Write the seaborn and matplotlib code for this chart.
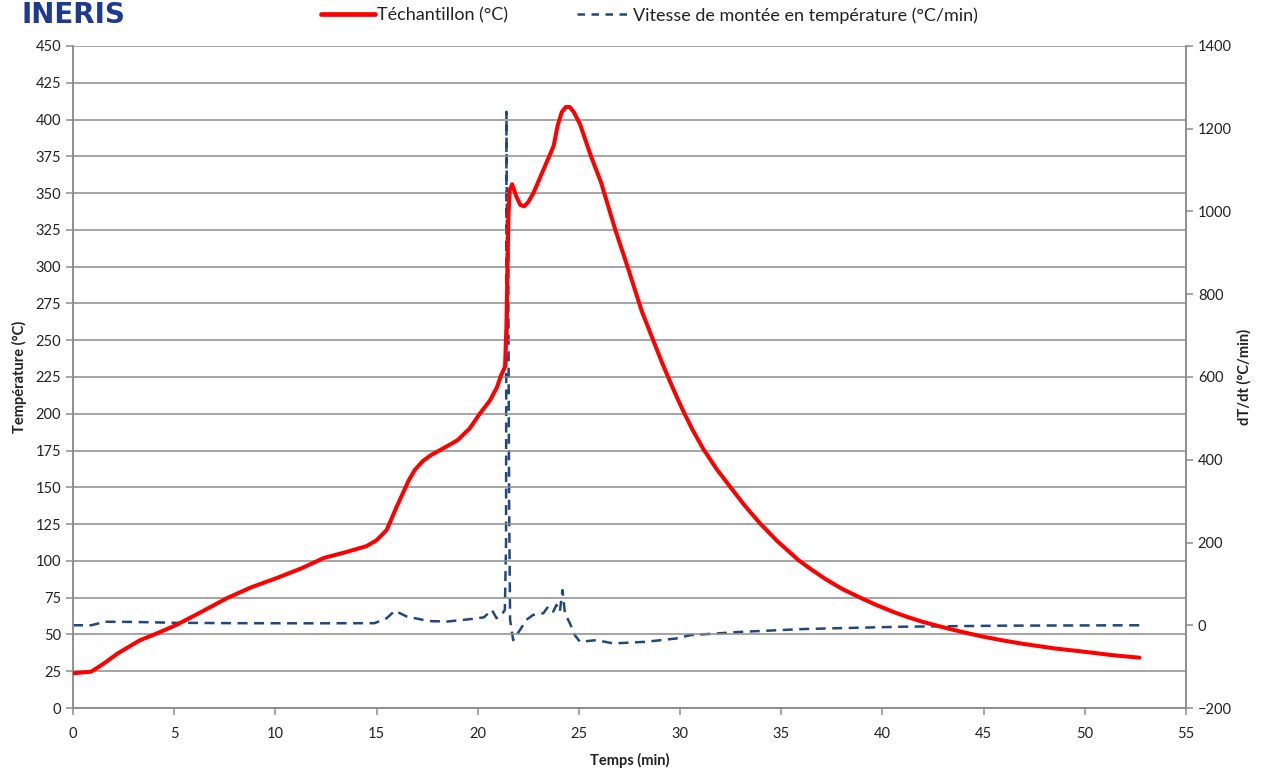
import matplotlib
matplotlib.use("Agg")
import matplotlib.pyplot as plt
import seaborn as sns
import pandas as pd
from matplotlib.lines import Line2D

# ---- data ----
time_T = [0, 0.9, 1.5, 2.2, 3.3, 4.2, 5.1, 6.3, 7.6, 8.8, 10.1, 11.3, 12.4, 13.5, 14.5,
          15.0, 15.5, 16.0, 16.3, 16.6, 16.9, 17.3, 17.7, 18.1, 19.0, 19.6, 20.1, 20.6,
          20.95, 21.15, 21.35, 21.42, 21.47, 21.52, 21.58, 21.7, 21.9, 22.1, 22.3, 22.5,
          22.75, 23.0, 23.25, 23.5, 23.75, 23.95, 24.15, 24.35, 24.55, 24.75, 25.05,
          25.6, 26.1, 26.8, 27.45, 28.1, 28.7, 29.1, 29.5, 29.85, 30.15, 30.6, 31.15, 31.8,
          32.55, 33.2, 33.95, 34.8, 35.85, 36.5, 37.2, 38.0, 38.9, 39.7, 40.5, 41.2, 42,
          43.3, 44, 45, 46, 47, 48.5, 50, 51.3, 52.7]
temp_T = [23.6, 24.7, 30, 37, 46, 51, 56.4, 65, 74.6, 82, 88.5, 95, 102, 106, 110,
          114, 121, 137, 146, 155, 162, 168, 172, 175, 182, 190, 200, 209,
          218, 226, 232, 260, 300, 335, 352, 356, 348, 342, 341, 344,
          350, 358, 366, 374, 382, 396, 405, 408.5, 408.5, 405, 397,
          375, 357, 325, 298, 270, 249, 235, 222, 211, 202, 189.5, 176, 162.5,
          149, 137.5, 125.5, 113.5, 100.5, 94, 87.5, 81, 75, 70, 65.5, 62, 58.5,
          53.8, 51.5, 48.4, 45.8, 43.5, 40.5, 38.2, 36, 34.2]

time_v = [0, 0.9, 1.6, 3, 5, 8, 11.5, 14.9, 15.5, 15.9, 16.5, 17.6, 18.5, 19.5, 20.3,
          20.7, 20.93, 21.18, 21.34, 21.40, 21.42, 21.46, 21.50, 21.55, 21.6, 21.75,
          22.08, 22.4, 22.74, 23.24, 23.48, 23.73, 23.89, 24.06, 24.19, 24.31, 24.55,
          24.8, 25.05, 25.87, 26.7, 28.3, 29.8, 30.5, 33, 36.2, 41, 46, 52.7]
rate_v = [0, 0, 8.5, 8, 6, 5, 4.7, 5, 17, 35, 21, 10, 9, 14, 19,
          37, 17, 25, 37, 200, 1241, 700, 1000, 300, 13, -36,
          -12, 13, 25, 29, 45, 33, 49, 33, 85, 29, 5,
          -24, -40, -36, -44, -40, -32, -24, -16, -9, -3.5, -1, 0]

temp_ticks = list(range(0, 451, 25))
rate_ticks = list(range(-200, 1401, 200))
time_ticks = list(range(0, 56, 5))

label_T = "Téchantillon (°C)"
label_v = "Vitesse de montée en température (°C/min)"

df_T = pd.DataFrame({"t": time_T, "T": temp_T})
df_v = pd.DataFrame({"t": time_v, "v": rate_v})

# ---- style ----
sns.set_theme(style="white")
plt.rcParams["font.family"] = ["Lato", "DejaVu Sans"]

RED = "#ff0000"
NAVY = "#1f497d"
GRID = "#8c8c8c"
TXT = "#222222"

fig = plt.figure(figsize=(12.63, 7.74), dpi=100)
ax = fig.add_axes([73/1263, 1-708/774, (1186-73)/1263, (708-46)/774])
ax2 = ax.twinx()

sns.lineplot(data=df_T, x="t", y="T", ax=ax, color=RED, linewidth=2.9,
             sort=False, estimator=None, zorder=5)
ax.lines[0].set_solid_joinstyle("round")
sns.lineplot(data=df_v, x="t", y="v", ax=ax2, color=NAVY, linewidth=1.8,
             sort=False, estimator=None, dashes=False)
ax2.lines[0].set_dashes((4, 2.6))

ax.set_zorder(ax2.get_zorder() + 1)
ax.patch.set_visible(False)

ax.set_xlim(0, 55)
ax.set_ylim(0, 450)
ax2.set_ylim(-200, 1400)
ax.set_xticks(time_ticks)
ax.set_yticks(temp_ticks)
ax2.set_yticks(rate_ticks)

ax.yaxis.grid(True, color=GRID, linewidth=1.1)
ax.xaxis.grid(False)
ax2.grid(False)

for a in (ax, ax2):
    for s in a.spines.values():
        s.set_color(GRID)
        s.set_linewidth(1.1)
    a.spines["top"].set_visible(False)
    a.tick_params(axis="both", colors=GRID, labelcolor=TXT, labelsize=10.5,
                  length=5, width=1.1, direction="out")
ax.tick_params(left=True, bottom=True)
ax.tick_params(axis="x", pad=9)
ax2.tick_params(right=True)

ax.set_xlabel("Temps (min)", fontsize=10.5, fontweight="bold", color=TXT, labelpad=8)
ax.set_ylabel("Température (°C)", fontsize=10.5, fontweight="bold", color=TXT, labelpad=6)
ax2.set_ylabel("dT/dt (°C/min)", fontsize=10.5, fontweight="bold", color=TXT, labelpad=4)

handles = [Line2D([], [], color=RED, linewidth=3.4),
           Line2D([], [], color=NAVY, linewidth=1.8, dashes=(3, 2.6))]
fig.legend(handles, [label_T, label_v], loc="upper center",
           bbox_to_anchor=(0.514, 1.012), ncol=2, frameon=False, fontsize=13,
           handlelength=3.0, handletextpad=0.1, columnspacing=3.8, labelcolor=TXT)

# logo text
fig.text(22/1263, 1.0 - 1/774, "INERIS", fontsize=20, fontweight="bold",
         family="DejaVu Sans", color="#1d3a8f", ha="left", va="top")

fig.savefig("out.png", dpi=100)
